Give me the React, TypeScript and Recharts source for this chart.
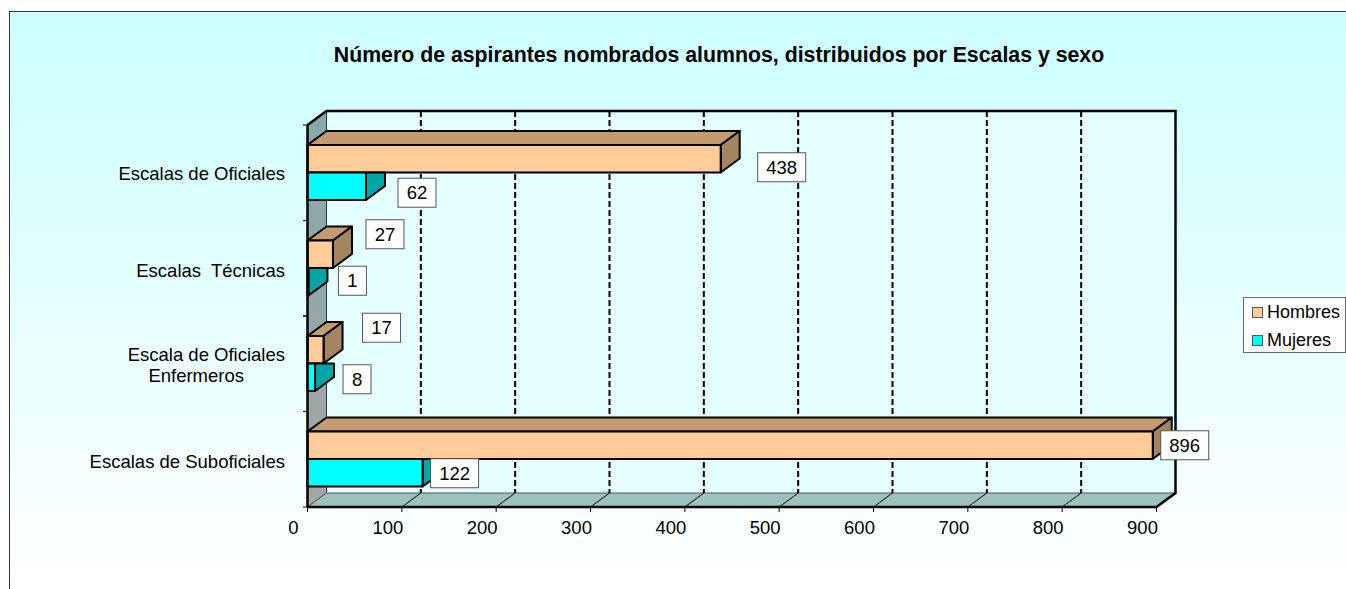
import { BarChart, Bar, XAxis, YAxis, Legend, LabelList, ReferenceArea, ReferenceLine } from "recharts";

const categories = ["Escalas de Oficiales", "Escalas  Técnicas", "Escala de Oficiales\nEnfermeros", "Escalas de Suboficiales"];
const hombres = [438, 27, 17, 896];
const mujeres = [62, 1, 8, 122];
const xTicks = [0, 100, 200, 300, 400, 500, 600, 700, 800, 900];
const gridValues = [100, 200, 300, 400, 500, 600, 700, 800];

// hand placed data labels, [dx from bar end, dy from bar centre]
const hombresNudge = [[37, 8.5], [33, -20], [39, -22], [8, 0]];
const mujeresNudge = [[32, 6.5], [30, -1], [28, 2], [8, 0.5]];
// category labels sit slightly under the band centre, except the first
const labelDrop = [0, 2, 2, 2];

const rows = categories.map((name, i) => ({ name, Hombres: hombres[i], Mujeres: mujeres[i] }));

const FONT = "'Liberation Sans', Arial, sans-serif";
const DX = 19;
const DY = 14;
const BAND = 95.5;

function Walls({ x, y, width, height }: any) {
  const right = x + width;
  const bottom = y + height;
  return (
    <g>
      <defs>
        <linearGradient id="sideWall" x1="0" y1="0" x2="0" y2="1">
          <stop offset="0%" stopColor="#84A9A9" />
          <stop offset="100%" stopColor="#A6A6A6" />
        </linearGradient>
      </defs>
      <rect x={x + DX} y={y - DY} width={width} height={height} fill="#E5FFFF" />
      <polygon points={`${x},${y} ${x + DX},${y - DY} ${x + DX},${bottom - DY} ${x},${bottom}`} fill="url(#sideWall)" stroke="#333" strokeWidth={1} />
      <polygon points={`${x},${bottom} ${x + DX},${bottom - DY} ${right + DX},${bottom - DY} ${right},${bottom}`} fill="#9CC2BF" stroke="#555" strokeWidth={1} />
      <polyline points={`${x},${y} ${x + DX},${y - DY} ${right + DX},${y - DY} ${right + DX},${bottom - DY} ${right},${bottom}`} fill="none" stroke="#000" strokeWidth={2.5} />
    </g>
  );
}

function GridShape({ x1, y1, y2 }: any) {
  const top = Math.min(y1, y2);
  const bottom = Math.max(y1, y2);
  return (
    <g stroke="#000" fill="none">
      <line x1={x1 + DX} y1={top - DY} x2={x1 + DX} y2={bottom - DY} strokeWidth={2} strokeDasharray="6 3" />
      <line x1={x1} y1={bottom} x2={x1 + DX} y2={bottom - DY} strokeWidth={1} />
    </g>
  );
}

// the women's bar is always shorter than the men's bar just above it, so its top face stays hidden
function Bar3D({ x, y, width, height, fill, topFill, sideFill }: any) {
  const r = x + width;
  const b = y + height;
  return (
    <g stroke="#000" strokeWidth={2} strokeLinejoin="round">
      {topFill ? (
        <>
          <polygon points={`${x},${y} ${x + DX},${y - DY} ${r + DX},${y - DY} ${r},${y}`} fill={topFill} />
          <polygon points={`${r},${y} ${r + DX},${y - DY} ${r + DX},${b - DY} ${r},${b}`} fill={sideFill} />
        </>
      ) : (
        <polygon points={`${r},${y} ${r + DX},${y} ${r + DX},${b - DY} ${r},${b}`} fill={sideFill} />
      )}
      <rect x={x} y={y} width={width} height={height} fill={fill} />
    </g>
  );
}

function valueBox(nudges: number[][]) {
  return ({ x, y, width, height, value, index }: any) => {
    const w = String(value).length * 10 + 18;
    const left = x + width + nudges[index][0];
    const cy = y + height / 2 + nudges[index][1];
    return (
      <g>
        <rect x={left} y={cy - 14.5} width={w} height={29} fill="#fff" stroke="#555" strokeWidth={1} />
        <text x={left + w / 2} y={cy + 6.5} textAnchor="middle" fontSize={18.5} fontFamily={FONT} fill="#000">{value}</text>
      </g>
    );
  };
}

function XTick({ x, y, payload }: any) {
  return <text x={x - 14} y={y + 20} textAnchor="middle" fontSize={18.5} fontFamily={FONT} fill="#000">{payload.value}</text>;
}

function YTick({ x, y, payload, index }: any) {
  const lines = String(payload.value).split("\n");
  const axisX = x + 8.5;
  const textY = y + 7 + labelDrop[index] - (lines.length - 1) * 12;
  return (
    <g>
      <line x1={axisX - 5} y1={y - BAND / 2} x2={axisX} y2={y - BAND / 2} stroke="#000" strokeWidth={1} />
      <line x1={axisX - 5} y1={y + BAND / 2} x2={axisX} y2={y + BAND / 2} stroke="#000" strokeWidth={1} />
      {lines.map((line, i) => (
        <text key={i} x={285 - i * 41} y={textY + i * 21} textAnchor="end" fontSize={18.5} fontFamily={FONT} fill="#000" style={{ whiteSpace: "pre" }}>
          {line}
        </text>
      ))}
    </g>
  );
}

function LegendBox({ payload }: any) {
  return (
    <div style={{ width: 103, height: 56, boxSizing: "border-box", background: "#fff", border: "1px solid #666", padding: "3px 0 0 8px", fontFamily: FONT, fontSize: 18, color: "#000" }}>
      {(payload || []).map((it: any) => (
        <div key={it.value} style={{ display: "flex", alignItems: "center", height: 23, marginBottom: 5 }}>
          <span style={{ width: 9, height: 9, background: it.color, border: "1px solid #555", marginRight: 4 }} />
          {it.value}
        </div>
      ))}
    </div>
  );
}

export default function App() {
  return (
    <div style={{ position: "absolute", left: 0, top: 0, width: 1346, height: 589, overflow: "hidden", background: "#fff" }}>
      <div style={{ position: "absolute", left: 9, top: 11, width: 1337, height: 578, boxSizing: "border-box", borderLeft: "1px solid #333", borderTop: "1px solid #333", background: "linear-gradient(#CCFFFF, #FFFFFF)" }} />
      <div style={{ position: "absolute", left: 0, top: 43, width: 1438, textAlign: "center", fontFamily: FONT, fontWeight: "bold", fontSize: 21.3, color: "#000" }}>
        Número de aspirantes nombrados alumnos, distribuidos por Escalas y sexo
      </div>
      <div style={{ position: "absolute", left: 0, top: 0 }}>
        <BarChart width={1346} height={589} data={rows} layout="vertical" barSize={27.5} barGap={0} margin={{ top: 125, bottom: 52, left: 7.5, right: 86.5 }}>
          <ReferenceArea x1={0} x2={900} shape={Walls} fill="none" stroke="none" zIndex={50} />
          {gridValues.map((v) => (
            <ReferenceLine key={v} x={v} shape={GridShape} zIndex={60} />
          ))}
          <XAxis type="number" domain={[0, 900]} ticks={xTicks} interval={0} height={30} tick={XTick} tickSize={5} axisLine={{ stroke: "#000", strokeWidth: 2.5 }} tickLine={{ stroke: "#000" }} />
          <YAxis type="category" dataKey="name" width={300} interval={0} tick={YTick} tickLine={false} axisLine={{ stroke: "#000", strokeWidth: 2.5 }} />
          <Legend layout="vertical" align="right" verticalAlign="middle" content={LegendBox} wrapperStyle={{ position: "absolute", left: 1243, top: 297, width: 103 }} />
          <Bar dataKey="Hombres" fill="#FFCC99" isAnimationActive={false} shape={(p: any) => <Bar3D {...p} topFill="#C49A72" sideFill="#A58560" />}>
            <LabelList dataKey="Hombres" content={valueBox(hombresNudge)} />
          </Bar>
          <Bar dataKey="Mujeres" fill="#00FFFF" isAnimationActive={false} shape={(p: any) => <Bar3D {...p} sideFill="#00A5A5" />}>
            <LabelList dataKey="Mujeres" content={valueBox(mujeresNudge)} />
          </Bar>
        </BarChart>
      </div>
    </div>
  );
}
